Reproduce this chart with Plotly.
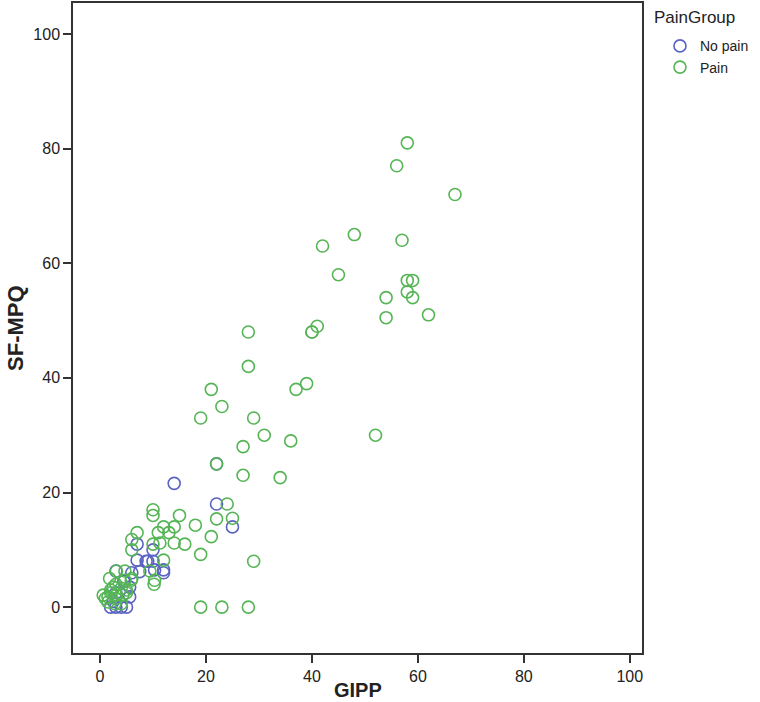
import plotly.graph_objects as go

# GIPP / SF-MPQ scores, split by pain group
no_pain_gipp = [14, 22, 22, 25, 7, 10, 7, 9, 12, 7.5, 10.3, 3, 6, 5.6, 5.6,
                2, 3, 4, 5, 2.5, 4.5, 3, 10, 12, 8.7]
no_pain_sfmpq = [21.6, 25, 18, 14, 11, 10, 8.2, 8, 6, 6.2, 6.5, 6.3, 6, 3.5, 1.8,
                 0, 0, 0, 0, 1, 4.5, 2.5, 8, 6.5, 8]

pain_gipp = [58, 56, 67, 48, 42, 57, 45, 54, 54, 58, 59, 58, 59, 62, 52,
             28, 40, 40, 41, 28, 21, 37, 39, 23, 19, 29, 31, 36, 27, 22, 27, 34,
             24, 15, 18, 22, 25, 21, 16, 19, 29, 19, 23, 28,
             10, 10, 12, 14, 7, 11, 13, 6, 14, 10, 11.3, 6, 12, 9.4, 10.3, 10.2,
             3.1, 4.7, 1.8, 4.7, 5.9, 2.5, 4, 1.5, 3.1, 4.3, 0.6, 1.5, 2.8, 4,
             2, 3, 5, 6, 3, 2, 5, 1]
pain_sfmpq = [81, 77, 72, 65, 63, 64, 58, 54, 50.5, 57, 57, 55, 54, 51, 30,
              48, 48, 48, 49, 42, 38, 38, 39, 35, 33, 33, 30, 29, 28, 25, 23, 22.6,
              18, 16, 14.3, 15.4, 15.5, 12.3, 11, 9.2, 8, 0, 0, 0,
              17, 16, 14, 14, 13, 13, 13, 11.8, 11.2, 11, 11.2, 10, 8.2, 6.3, 4.7, 4,
              6.3, 6.3, 5, 4.7, 4.7, 3.5, 3.3, 1.8, 2.1, 2.1, 2.1, 0.9, 0.6, 0.6,
              3, 4, 3, 5, 1.5, 2.5, 2.5, 1.5]

x_ticks = [0, 20, 40, 60, 80, 100]
y_ticks = [0, 20, 40, 60, 80, 100]

blue = "#5a62c2"
green = "#55b555"
axis_color = "#333333"
font_family = "Liberation Sans, Arial"

fig = go.Figure()
fig.add_trace(go.Scatter(
    x=no_pain_gipp, y=no_pain_sfmpq, mode="markers", name="No pain",
    marker=dict(symbol="circle-open", size=12, color=blue, line=dict(width=1.6, color=blue))
))
fig.add_trace(go.Scatter(
    x=pain_gipp, y=pain_sfmpq, mode="markers", name="Pain",
    marker=dict(symbol="circle-open", size=12, color=green, line=dict(width=1.6, color=green))
))

axis_common = dict(
    showgrid=False, zeroline=False, showline=True, linecolor=axis_color, linewidth=1.5,
    mirror=True, ticks="outside", ticklen=8, tickwidth=1.5, tickcolor=axis_color,
    tickfont=dict(family=font_family, size=16, color="#222222"), automargin=False,
)

fig.update_xaxes(range=[-5.1, 102.3], tickvals=x_ticks, **axis_common)
fig.update_yaxes(range=[-8, 105.4], tickvals=y_ticks, **axis_common)

# axis titles and legend title placed as annotations
fig.add_annotation(text="<b>GIPP</b>", xref="paper", yref="paper", x=0.5, y=-0.057,
                   xanchor="center", yanchor="middle", showarrow=False,
                   font=dict(family=font_family, size=20, color="#222222"))
fig.add_annotation(text="<b>SF-MPQ</b>", xref="paper", yref="paper", x=-0.102, y=0.5,
                   xanchor="center", yanchor="middle", showarrow=False, textangle=-90,
                   font=dict(family=font_family, size=22, color="#222222"))
fig.add_annotation(text="PainGroup", xref="paper", yref="paper", x=1.0176, y=0.977,
                   xanchor="left", yanchor="middle", showarrow=False,
                   font=dict(family=font_family, size=17, color="#222222"))

fig.update_layout(
    width=760, height=702,
    margin=dict(l=73, r=118, t=3, b=49),
    plot_bgcolor="white", paper_bgcolor="white",
    font=dict(family=font_family, color="#222222"),
    legend=dict(
        x=1.0316, y=0.958, xanchor="left", yanchor="top",
        font=dict(size=14), itemwidth=30, tracegroupgap=0,
        bgcolor="rgba(0,0,0,0)",
    ),
    showlegend=True,
)

fig.write_html("out.html", config={"displayModeBar": False},
               post_script="document.body.style.margin='0px';")
